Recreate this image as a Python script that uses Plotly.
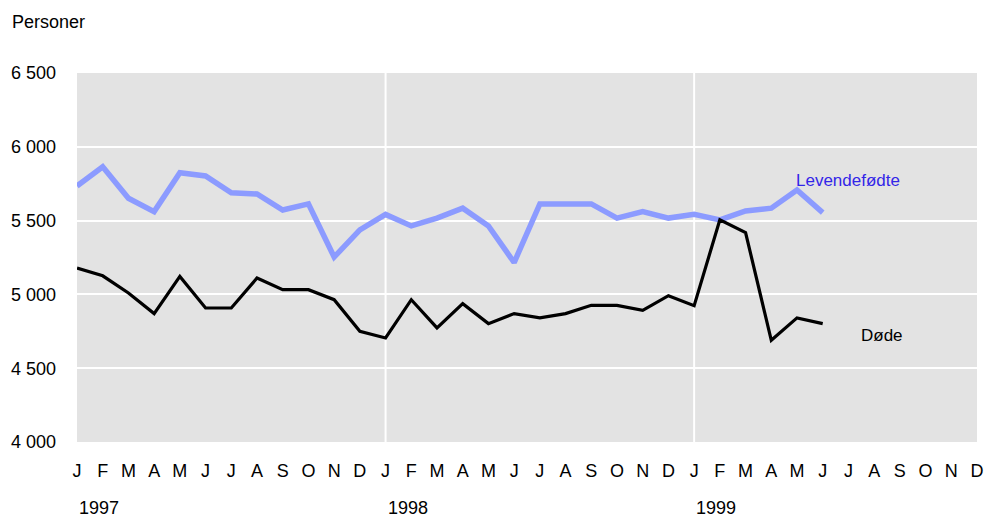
import plotly.graph_objects as go

months = ["J", "F", "M", "A", "M", "J", "J", "A", "S", "O", "N", "D"] * 3
years = ["1997", "1998", "1999"]

levendefodte = [5734, 5865, 5651, 5561, 5824, 5802, 5689, 5680, 5572, 5613, 5253, 5437,
                5542, 5464, 5517, 5584, 5464, 5216, 5613, 5613, 5613, 5517, 5561, 5517,
                5542, 5505, 5565, 5584, 5707, 5554]
dode = [5178, 5126, 5010, 4870, 5122, 4908, 4908, 5111, 5032, 5032, 4964, 4750,
        4705, 4964, 4773, 4937, 4802, 4870, 4841, 4870, 4926, 4926, 4892, 4991,
        4924, 5505, 5419, 4689, 4841, 4802]

y_ticks = [4000, 4500, 5000, 5500, 6000, 6500]
y_ticktext = ["4 000", "4 500", "5 000", "5 500", "6 000", "6 500"]

FONT = "Liberation Sans Narrow, Arial Narrow, Liberation Sans, Arial, sans-serif"

fig = go.Figure()
fig.add_trace(go.Scatter(x=list(range(len(levendefodte))), y=levendefodte, mode="lines",
                         line=dict(color="#8C9BFF", width=5.5), name="Levendefødte",
                         hoverinfo="y"))
fig.add_trace(go.Scatter(x=list(range(len(dode))), y=dode, mode="lines",
                         line=dict(color="#000000", width=3.2), name="Døde",
                         hoverinfo="y"))

# vertical year separators
for i in range(1, len(years)):
    fig.add_shape(type="line", xref="x", yref="paper", x0=12 * i, x1=12 * i, y0=0, y1=1,
                  line=dict(color="white", width=2), layer="below")

# year labels
for i, yr in enumerate(years):
    fig.add_annotation(x=12 * i, xref="x", y=-0.179, yref="paper", text=yr,
                       showarrow=False, xanchor="left", yanchor="middle",
                       font=dict(family=FONT, size=18, color="#000"))

fig.add_annotation(x=-0.0744, xref="paper", y=1.138, yref="paper", text="Personer",
                   showarrow=False, xanchor="left", yanchor="middle",
                   font=dict(family=FONT, size=18, color="#000"))
fig.add_annotation(x=30, y=5775, text="Levendefødte", showarrow=False,
                   xanchor="center", yanchor="middle",
                   font=dict(family=FONT, size=17, color="#3326E8"))
fig.add_annotation(x=31.3, y=4721, text="Døde", showarrow=False,
                   xanchor="center", yanchor="middle",
                   font=dict(family=FONT, size=17, color="#000"))

fig.update_layout(
    width=987, height=517,
    margin=dict(l=77, r=10, t=73, b=75, autoexpand=False),
    paper_bgcolor="white",
    plot_bgcolor="#E3E3E3",
    showlegend=False,
    font=dict(family=FONT, size=18, color="#000"),
)
fig.update_xaxes(range=[0, 35], tickmode="array", tickvals=list(range(36)), ticktext=months,
                 showgrid=False, zeroline=False, showline=False, ticks="", automargin=False,
                 ticklabelstandoff=16, ticklabeloverflow="allow",
                 tickfont=dict(family=FONT, size=18))
fig.update_yaxes(range=[4000, 6500], tickmode="array", tickvals=y_ticks, ticktext=y_ticktext,
                 showgrid=True, gridcolor="white", gridwidth=2, zeroline=False, automargin=False,
                 showline=False, ticks="", ticklabelstandoff=20,
                 tickfont=dict(family=FONT, size=18))

# remove the browser's default page margin so the figure fills the window exactly
fig.write_html("out.html",
               config={"displayModeBar": False},
               post_script="document.body.style.margin='0';document.body.style.overflow='hidden';")
